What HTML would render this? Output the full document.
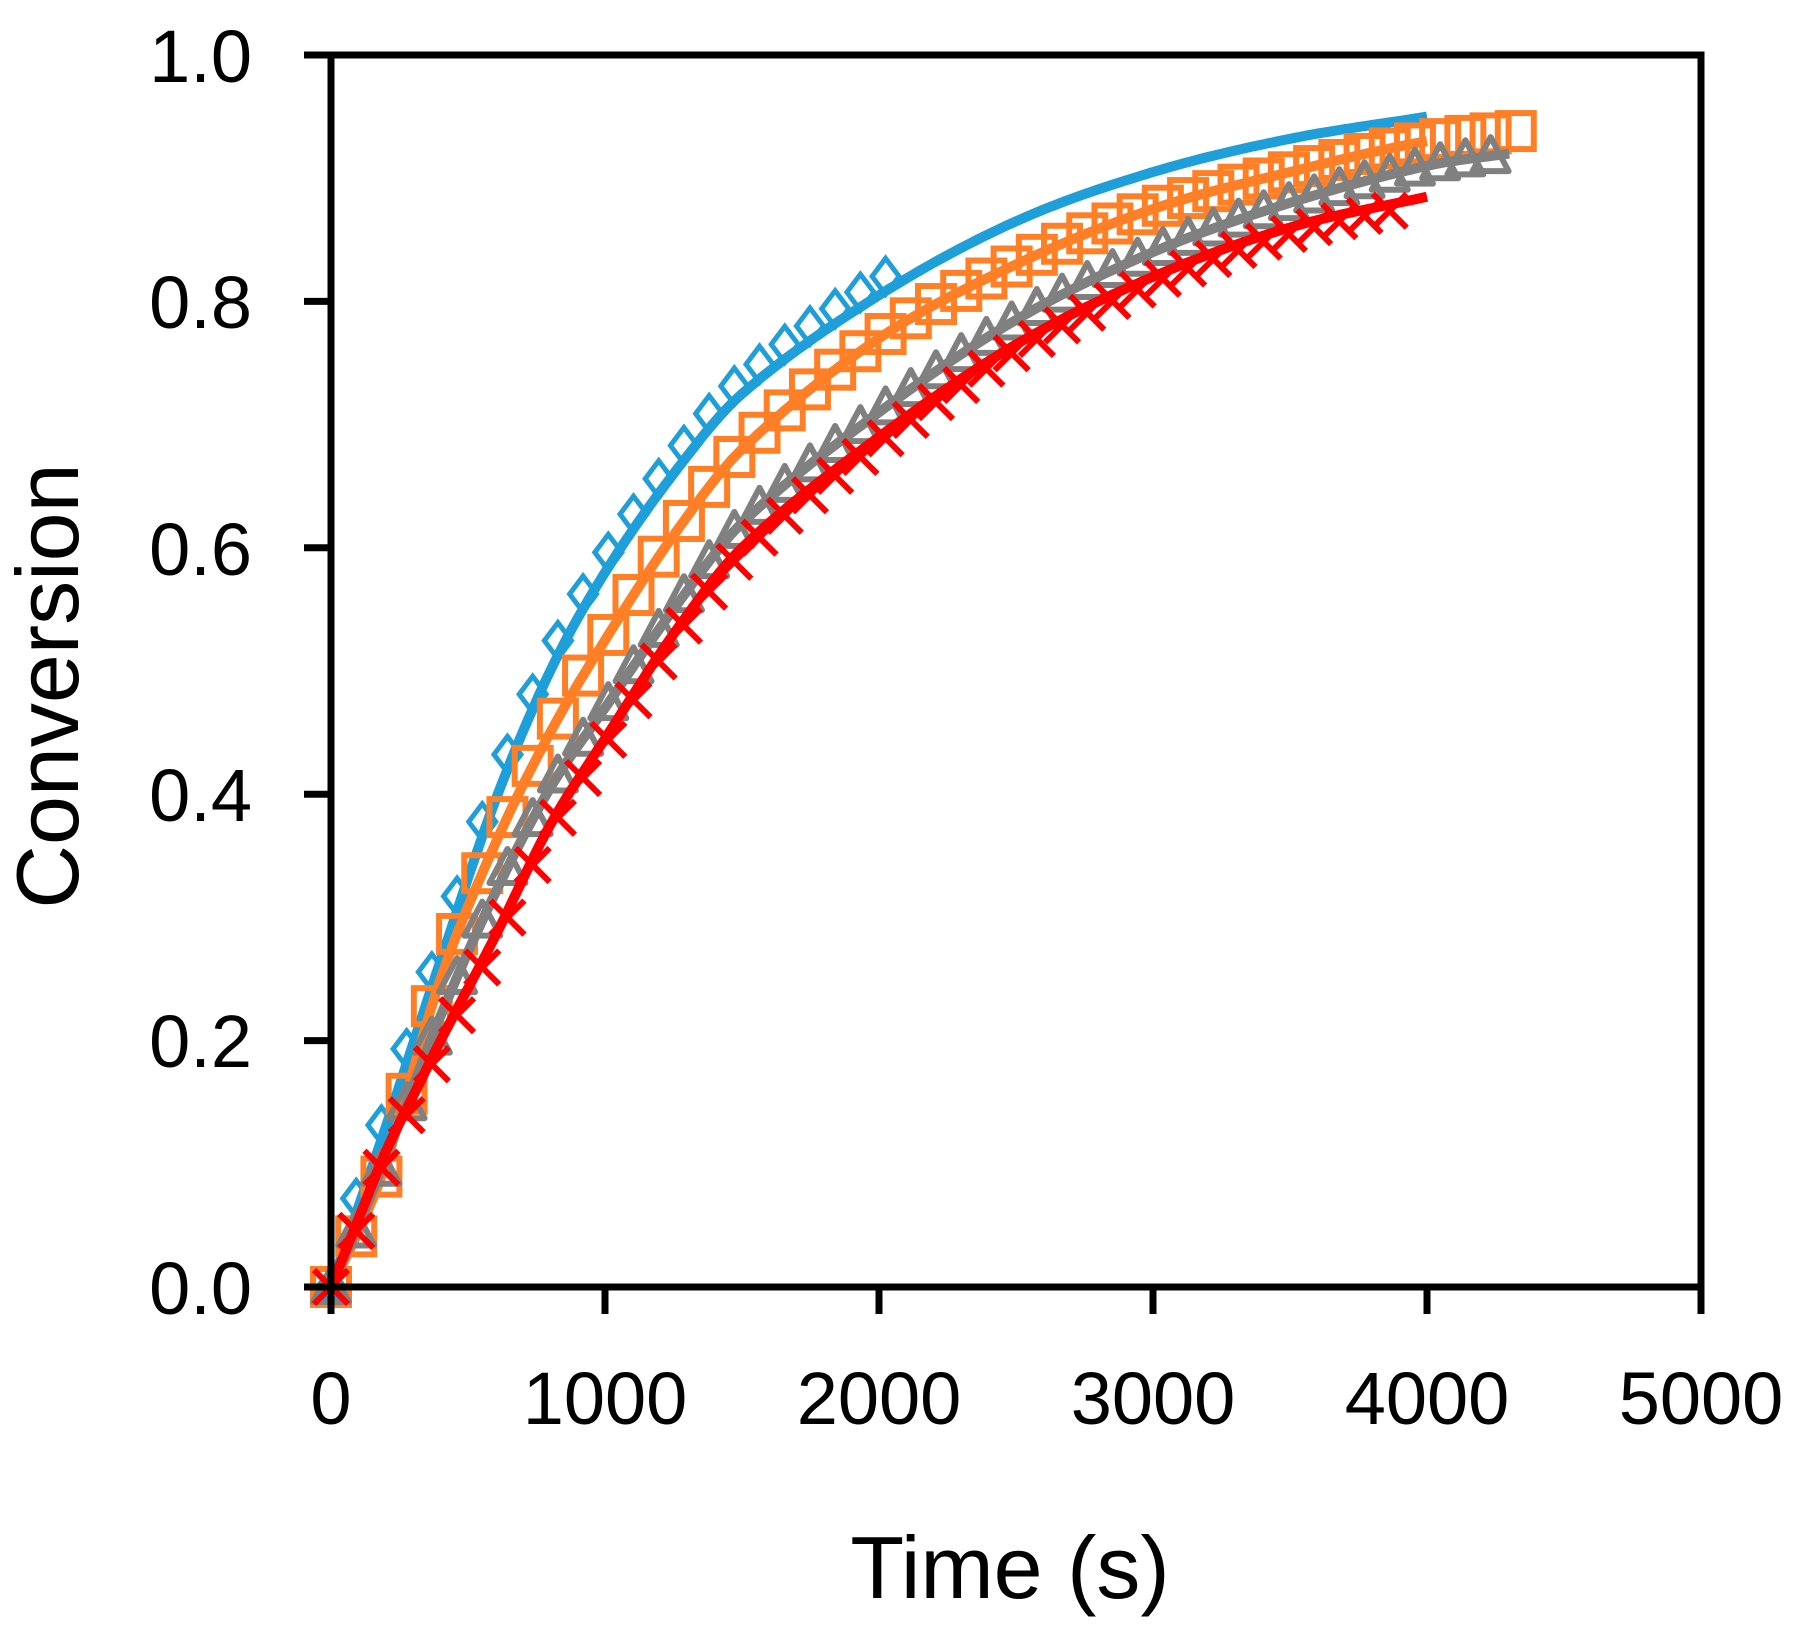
<!DOCTYPE html>
<html><head><meta charset="utf-8"><style>
html,body{margin:0;padding:0;background:#fff;}
svg{display:block;}
text{font-family:"Liberation Sans",sans-serif;fill:#000;}
</style></head><body>
<svg id="s" width="1794" height="1630" xmlns="http://www.w3.org/2000/svg">
<rect width="1794" height="1630" fill="#fff"/>
<g id="data"></g>
<g stroke="#000" stroke-width="7" fill="none">
<rect x="331" y="55" width="1370" height="1232"/>
<path d="M304 55H331M304 301.4H331M304 547.8H331M304 794.2H331M304 1040.6H331M304 1287H331"/>
<path d="M331 1287V1314M605 1287V1314M879 1287V1314M1153 1287V1314M1427 1287V1314M1701 1287V1314"/>
</g>
<g font-size="74" text-anchor="end">
<text x="252" y="82">1.0</text>
<text x="252" y="328">0.8</text>
<text x="252" y="575">0.6</text>
<text x="252" y="821">0.4</text>
<text x="252" y="1067">0.2</text>
<text x="252" y="1314">0.0</text>
</g>
<g font-size="74" text-anchor="middle">
<text x="331" y="1424">0</text>
<text x="605" y="1424">1000</text>
<text x="879" y="1424">2000</text>
<text x="1153" y="1424">3000</text>
<text x="1427" y="1424">4000</text>
<text x="1701" y="1424">5000</text>
</g>
<text x="1010" y="1598" font-size="88" text-anchor="middle">Time (s)</text>
<text transform="translate(78,686) rotate(-90)" font-size="88" text-anchor="middle">Conversion</text>
</svg>
<script>
function X(t){return 331+t*0.274;}
function Y(v){return 1287-v*1232;}
function interp(k,t){
  for(var i=0;i<k.length-1;i++){
    if(t<=k[i+1][0]){
      var a=k[i],b=k[i+1];
      var p0=k[Math.max(i-1,0)],p3=k[Math.min(i+2,k.length-1)];
      var h=b[0]-a[0],s=(t-a[0])/h;
      var m0=(b[1]-p0[1])/(b[0]-p0[0])*h, m1=(p3[1]-a[1])/(p3[0]-a[0])*h;
      var s2=s*s,s3=s2*s;
      return (2*s3-3*s2+1)*a[1]+(s3-2*s2+s)*m0+(-2*s3+3*s2)*b[1]+(s3-s2)*m1;
    }
  }
  return k[k.length-1][1];
}
var series=[
 {c:"#1e9fd9",m:"d",end:4000,mend:2100,off:0.012,k:[[0,0],[100,0.065],[200,0.13],[400,0.265],[600,0.395],[800,0.5],[1000,0.58],[1250,0.66],[1500,0.725],[2000,0.805],[2500,0.865],[3000,0.905],[3500,0.932],[4000,0.95]]},
 {c:"#ff7f27",m:"s",end:4000,mend:4400,off:0,k:[[0,0],[100,0.045],[200,0.1],[400,0.25],[600,0.36],[800,0.45],[1000,0.525],[1250,0.61],[1500,0.68],[2000,0.77],[2500,0.83],[3000,0.875],[3500,0.905],[4000,0.93],[4400,0.94]]},
 {c:"#808080",m:"t",end:4300,mend:4300,off:0,k:[[0,0],[100,0.05],[200,0.105],[400,0.22],[600,0.32],[800,0.405],[1000,0.47],[1250,0.55],[1500,0.62],[2000,0.71],[2500,0.785],[3000,0.84],[3500,0.88],[4000,0.91],[4300,0.92]]},
 {c:"#ff0000",m:"x",end:4000,mend:3950,off:-0.005,k:[[0,0],[100,0.055],[200,0.11],[300,0.155],[400,0.2],[600,0.285],[800,0.375],[1000,0.445],[1250,0.53],[1500,0.6],[2000,0.69],[2500,0.765],[3000,0.82],[3500,0.86],[4000,0.885]]}
];
var out="";
series.forEach(function(S){
  var d="";
  for(var t=0;t<=S.end;t+=20){d+=(t?"L":"M")+X(t).toFixed(1)+" "+Y(interp(S.k,t)).toFixed(1);}
  var line='<path d="'+d+'" fill="none" stroke="'+S.c+'" stroke-width="10" stroke-linejoin="round"/>';
  var mk="";
  for(var t=0;t<=S.mend+1;t+=92){
    var x=X(t),y=Y(interp(S.k,t)+(t>0?S.off:0)),r=18;
    if(S.m=="d")mk+='<path d="M'+x+' '+(y-r)+'L'+(x+r*0.75)+' '+y+'L'+x+' '+(y+r)+'L'+(x-r*0.75)+' '+y+'Z" fill="none" stroke="'+S.c+'" stroke-width="5"/>';
    if(S.m=="s")mk+='<rect x="'+(x-18)+'" y="'+(y-18)+'" width="36" height="36" fill="none" stroke="'+S.c+'" stroke-width="6"/>';
    if(S.m=="t")mk+='<path d="M'+x+' '+(y-19)+'L'+(x+18)+' '+(y+15)+'L'+(x-18)+' '+(y+15)+'Z" fill="none" stroke="'+S.c+'" stroke-width="6" stroke-linejoin="round"/>';
    if(S.m=="x")mk+='<path d="M'+(x-17)+' '+(y-17)+'L'+(x+17)+' '+(y+17)+'M'+(x+17)+' '+(y-17)+'L'+(x-17)+' '+(y+17)+'" stroke="'+S.c+'" stroke-width="6"/>';
  }
  out+= (S.m=="d") ? mk+line : line+mk;
});
document.getElementById("data").innerHTML=out;
</script>
</body></html>
